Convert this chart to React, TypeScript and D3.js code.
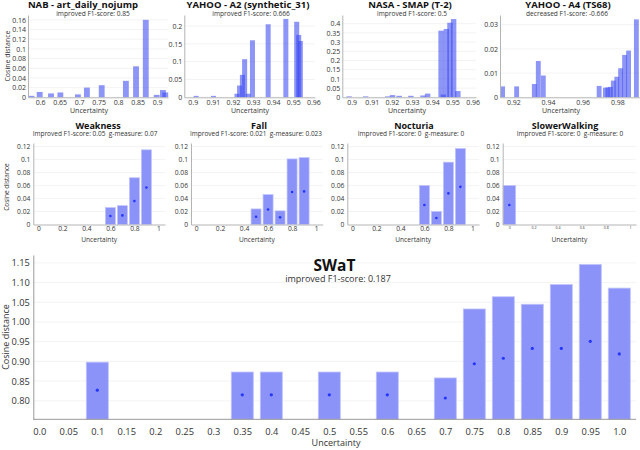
import React, { useEffect, useRef } from "react";
import * as d3 from "d3";

// ---- top row: histogram bin centres and cosine distance ----
const nabBins = [0.578, 0.599, 0.628, 0.652, 0.697, 0.72, 0.758, 0.82, 0.846, 0.871, 0.899, 0.915, 0.921];
const nabValues = [0.003, 0.011, 0.008, 0.01, 0.006, 0.02, 0.025, 0.034, 0.064, 0.16, 0.005, 0.015, 0.01];
const nabXTicks = [0.6, 0.65, 0.7, 0.75, 0.8, 0.85, 0.9];
const nabYTicks = [0, 0.02, 0.04, 0.06, 0.08, 0.1, 0.12, 0.14, 0.16];

const a2Bins = [0.9017, 0.9103, 0.922, 0.9233, 0.9247, 0.9258, 0.9275, 0.9297, 0.9375, 0.9463, 0.9517, 0.9527, 0.9535];
const a2Values = [0.004, 0.004, 0.01, 0.033, 0.063, 0.107, 0.01, 0.16, 0.205, 0.22, 0.212, 0.175, 0.158];
const a2XTicks = [0.9, 0.91, 0.92, 0.93, 0.94, 0.95, 0.96];
const a2YTicks = [0, 0.05, 0.1, 0.15, 0.2];

const smapBins = [0.8988, 0.907, 0.9179, 0.9203, 0.9236, 0.9294, 0.9354, 0.9377, 0.9444, 0.9455, 0.947, 0.9488, 0.9506, 0.9527];
const smapValues = [0.005, 0.005, 0.005, 0.012, 0.008, 0.008, 0.01, 0.02, 0.362, 0.015, 0.371, 0.405, 0.425, 0.034];
const smapXTicks = [0.9, 0.91, 0.92, 0.93, 0.94, 0.95, 0.96];
const smapYTicks = [0, 0.05, 0.1, 0.15, 0.2, 0.25, 0.3, 0.35, 0.4];

const a4Bins = [0.9138, 0.9219, 0.9321, 0.9344, 0.9373, 0.9695, 0.9731, 0.9746, 0.976, 0.9777, 0.9797, 0.9819, 0.9842, 0.9865, 0.991];
const a4Values = [0.0045, 0.0045, 0.0055, 0.015, 0.009, 0.0047, 0.004, 0.0041, 0.0043, 0.0069, 0.0085, 0.012, 0.0175, 0.0193, 0.0322];
const a4XTicks = [0.92, 0.94, 0.96, 0.98];
const a4YTicks = [0, 0.01, 0.02, 0.03];

// ---- middle row: uncertainty bucket, bar height, dot value ----
const weaknessX = [0.6, 0.7, 0.8, 0.9];
const weaknessBar = [0.026, 0.029, 0.072, 0.115];
const weaknessDot = [0.013, 0.014, 0.036, 0.057];

const fallX = [0.5, 0.6, 0.7, 0.8, 0.9];
const fallBar = [0.024, 0.046, 0.021, 0.101, 0.103];
const fallDot = [0.012, 0.023, 0.011, 0.05, 0.051];

const nocturiaX = [0.6, 0.7, 0.8, 0.9];
const nocturiaBar = [0.06, 0.02, 0.096, 0.117];
const nocturiaDot = [0.03, 0.01, 0.048, 0.058];

const walkingX = [0];
const walkingBar = [0.06];
const walkingDot = [0.03];

const midXTicks = [0, 0.2, 0.4, 0.6, 0.8, 1];
const midYTicks = [0, 0.02, 0.04, 0.06, 0.08, 0.1, 0.12];

// ---- bottom: SWaT ----
const swatCategories = ["0.0", "0.05", "0.1", "0.15", "0.2", "0.25", "0.3", "0.35", "0.4", "0.45", "0.5",
    "0.55", "0.6", "0.65", "0.7", "0.75", "0.8", "0.85", "0.9", "0.95", "1.0"];
const swatBarCats = ["0.1", "0.35", "0.4", "0.5", "0.6", "0.7", "0.75", "0.8", "0.85", "0.9", "0.95", "1.0"];
const swatBar = [0.898, 0.873, 0.873, 0.873, 0.873, 0.858, 1.033, 1.064, 1.045, 1.095, 1.146, 1.086];
const swatDot = [0.827, 0.815, 0.815, 0.815, 0.815, 0.807, 0.894, 0.908, 0.933, 0.933, 0.951, 0.919];
const swatYTicks = [0.8, 0.85, 0.9, 0.95, 1.0, 1.05, 1.1, 1.15];

const FONT = "'Open Sans', 'Noto Sans', sans-serif";
const HIST = "#3a48f2";
const BAR = "#8b93f8";
const BAR_EDGE = "#c0c4fc";
const DOT = "#2536ff";
const AXIS = "#b4b4b4";
const GRID = "#f0f0f0";
const W = 640;
const H = 450;

const fmt = d3.format("~g");

const topPanels = [
    {title: "NAB - art_daily_nojump", subtitle: "improved F1-score: 0.85", bins: nabBins, values: nabValues,
        binWidth: 0.015, xDomain: [0.569, 0.928], yMax: 0.17, xTicks: nabXTicks, yTicks: nabYTicks,
        left: 28, right: 168, titleX: 83, subX: 93, labelX: 89},
    {title: "YAHOO - A2 (synthetic_31)", subtitle: "improved F1-score: 0.666", bins: a2Bins, values: a2Values,
        binWidth: 0.0025, xDomain: [0.8958, 0.9608], yMax: 0.231, xTicks: a2XTicks, yTicks: a2YTicks,
        left: 184.3, right: 315, titleX: 248, subX: 251, labelX: 250},
    {title: "NASA - SMAP (T-2)", subtitle: "improved F1-score: 0.5", bins: smapBins, values: smapValues,
        binWidth: 0.0027, xDomain: [0.8954, 0.9617], yMax: 0.447, xTicks: smapXTicks, yTicks: smapYTicks,
        left: 342.3, right: 476, titleX: 410, subX: 412, labelX: 407},
    {title: "YAHOO - A4 (TS68)", subtitle: "decreased F1-score: -0.666", bins: a4Bins, values: a4Values,
        binWidth: 0.0028, xDomain: [0.9123, 0.9928], yMax: 0.034, xTicks: a4XTicks, yTicks: a4YTicks,
        left: 500, right: 639.5, titleX: 568, subX: 567, labelX: 561},
];

const midPanels = [
    {title: "Weakness", subtitle: "Improved F1-score: 0.05  g-measure: 0.07", xs: weaknessX, bars: weaknessBar,
        dots: weaknessDot, left: 33.3, right: 165, xDomain: [-0.042, 1.055], barWidth: 0.1, gap: 1,
        tickSize: 6.7, titleX: 98, subX: 95},
    {title: "Fall", subtitle: "Improved F1-score: 0.021  g-measure: 0.023", xs: fallX, bars: fallBar,
        dots: fallDot, left: 191, right: 322.7, xDomain: [-0.042, 1.055], barWidth: 0.1, gap: 1,
        tickSize: 6.7, titleX: 259, subX: 256},
    {title: "Nocturia", subtitle: "Improved F1-score: 0  g-measure: 0", xs: nocturiaX, bars: nocturiaBar,
        dots: nocturiaDot, left: 347.3, right: 479, xDomain: [-0.042, 1.055], barWidth: 0.1, gap: 1,
        tickSize: 6.7, titleX: 414, subX: 411},
    {title: "SlowerWalking", subtitle: "Improved F1-score: 0  g-measure: 0", xs: walkingX, bars: walkingBar,
        dots: walkingDot, left: 502.7, right: 636, xDomain: [-0.055, 1.05], barWidth: 0.11, gap: 0.3,
        tickSize: 3.6, titleX: 565, subX: 570},
];

const App: React.FC = () => {
    const svgRef = useRef<SVGSVGElement>(null);

    useEffect(() => {
        const svg = d3.select(svgRef.current);
        svg.selectAll("*").remove();
        svg.append("rect").attr("width", W).attr("height", H).attr("fill", "#fff");

        const label = (x: number, y: number, s: string, size: number, bold = false, rotate = false) => {
            const t = svg.append("text")
                .attr("text-anchor", "middle")
                .attr("font-family", FONT)
                .attr("font-size", size)
                .attr("font-weight", bold ? 700 : 400)
                .attr("fill", bold ? "#111" : "#333")
                .style("white-space", "pre")
                .text(s);
            if (rotate) {
                t.attr("transform", `translate(${x},${y}) rotate(-90)`).attr("dominant-baseline", "central");
            } else {
                t.attr("x", x).attr("y", y);
            }
            return t;
        };

        const styleAxis = (g: any, size: number, color: string) => {
            g.attr("font-family", FONT).attr("font-size", size);
            g.select(".domain").attr("stroke", color);
            g.selectAll("text").attr("fill", "#333");
        };

        // ---------- top row ----------
        const topBase = 97.3;
        const topTop = 15;
        topPanels.forEach((p) => {
            const x = d3.scaleLinear().domain(p.xDomain).range([p.left, p.right]);
            const y = d3.scaleLinear().domain([0, p.yMax]).range([topBase, topTop]);
            const g = svg.append("g");

            g.selectAll("line.grid").data(p.yTicks.filter(v => v > 0)).join("line")
                .attr("x1", p.left).attr("x2", p.right)
                .attr("y1", d => y(d)).attr("y2", d => y(d))
                .attr("stroke", GRID).attr("stroke-width", 0.8);

            g.selectAll("rect.bin").data(p.bins.map((b, i) => ({b, v: p.values[i]}))).join("rect")
                .attr("x", d => x(d.b - p.binWidth / 2))
                .attr("width", d => x(d.b + p.binWidth / 2) - x(d.b - p.binWidth / 2))
                .attr("y", d => y(d.v))
                .attr("height", d => y(0) - y(d.v))
                .attr("fill", HIST)
                .attr("fill-opacity", 0.58);

            const xa = g.append("g").attr("transform", `translate(0,${topBase})`)
                .call(d3.axisBottom(x).tickValues(p.xTicks).tickSize(0).tickPadding(2.6).tickFormat(fmt as any));
            styleAxis(xa, 7, AXIS);
            const ya = g.append("g").attr("transform", `translate(${p.left},0)`)
                .call(d3.axisLeft(y).tickValues(p.yTicks).tickSize(0).tickPadding(2).tickFormat(fmt as any));
            styleAxis(ya, 7, AXIS);

            label(p.titleX, 8.2, p.title, 9.5, true);
            label(p.subX, 15.6, p.subtitle, 6.6);
            label(p.labelX, 112.5, "Uncertainty", 7);
        });
        label(7, 56, "Cosine distance", 7, false, true);

        // ---------- middle row ----------
        const midBase = 224.5;
        const midTop = 143;
        midPanels.forEach((p) => {
            const x = d3.scaleLinear().domain(p.xDomain).range([p.left, p.right]);
            const y = d3.scaleLinear().domain([0, 0.1255]).range([midBase, midTop]);
            const g = svg.append("g");

            g.selectAll("line.grid").data(midYTicks.filter(v => v > 0)).join("line")
                .attr("x1", p.left).attr("x2", p.right)
                .attr("y1", d => y(d)).attr("y2", d => y(d))
                .attr("stroke", GRID).attr("stroke-width", 0.8);

            const rows = p.xs.map((c, i) => ({c, v: p.bars[i], d: p.dots[i]}));
            g.selectAll("rect.bar").data(rows).join("rect")
                .attr("x", d => x(d.c - p.barWidth / 2) + p.gap)
                .attr("width", d => x(d.c + p.barWidth / 2) - x(d.c - p.barWidth / 2) - 2 * p.gap)
                .attr("y", d => y(d.v))
                .attr("height", d => y(0) - y(d.v))
                .attr("fill", BAR)
                .attr("stroke", BAR_EDGE)
                .attr("stroke-width", 0.7);
            g.selectAll("circle.dot").data(rows).join("circle")
                .attr("cx", d => x(d.c))
                .attr("cy", d => y(d.d))
                .attr("r", 1.3)
                .attr("fill", DOT);

            const xa = g.append("g").attr("transform", `translate(0,${midBase})`)
                .call(d3.axisBottom(x).tickValues(midXTicks).tickSize(0).tickPadding(1.5).tickFormat(fmt as any));
            styleAxis(xa, p.tickSize, AXIS);
            const ya = g.append("g").attr("transform", `translate(${p.left},0)`)
                .call(d3.axisLeft(y).tickValues(midYTicks).tickSize(0).tickPadding(3).tickFormat(fmt as any));
            styleAxis(ya, 6.7, AXIS);

            label(p.titleX, 129.4, p.title, 9, true);
            label(p.subX, 136.2, p.subtitle, 6.5);
            label((p.left + p.right) / 2, 242, "Uncertainty", 6.6);
        });
        label(6, 187, "Cosine distance", 6.5, false, true);

        // ---------- SWaT ----------
        const left = 33.3;
        const right = 636;
        const base = 419.3;
        const x = d3.scalePoint<string>().domain(swatCategories).range([39.3, 619.3]);
        const y = d3.scaleLinear().domain([0.753, 1.17]).range([base, 255]);
        const g = svg.append("g");

        g.selectAll("line.grid").data(swatYTicks).join("line")
            .attr("x1", left).attr("x2", right)
            .attr("y1", d => y(d)).attr("y2", d => y(d))
            .attr("stroke", GRID).attr("stroke-width", 0.8);

        const bw = x.step() * 0.76;
        const rows = swatBarCats.map((c, i) => ({c, v: swatBar[i], d: swatDot[i]}));
        g.selectAll("rect.bar").data(rows).join("rect")
            .attr("x", d => (x(d.c) as number) - bw / 2)
            .attr("width", bw)
            .attr("y", d => y(d.v))
            .attr("height", d => base - y(d.v))
            .attr("fill", BAR)
            .attr("stroke", BAR_EDGE)
            .attr("stroke-width", 0.8);
        g.selectAll("circle.dot").data(rows).join("circle")
            .attr("cx", d => x(d.c) as number)
            .attr("cy", d => y(d.d))
            .attr("r", 1.6)
            .attr("fill", DOT);

        const xa = g.append("g").attr("transform", `translate(0,${base})`)
            .call(d3.axisBottom(x).tickSize(0).tickPadding(9));
        styleAxis(xa, 9.3, AXIS);
        xa.select(".domain").remove();
        g.append("line").attr("x1", left).attr("x2", right).attr("y1", base).attr("y2", base)
            .attr("stroke", "#999").attr("stroke-width", 1);
        const ya = g.append("g").attr("transform", `translate(${left},0)`)
            .call(d3.axisLeft(y).tickValues(swatYTicks).tickSize(0).tickPadding(3.5).tickFormat(d3.format(".2f") as any));
        styleAxis(ya, 9.3, "#999");

        label(334.5, 270.7, "SWaT", 15.5, true);
        label(338, 282, "improved F1-score: 0.187", 9);
        label(336, 446, "Uncertainty", 9);
        label(5.5, 337, "Cosine distance", 9, false, true);
    }, []);

    return <svg ref={svgRef} width={W} height={H} style={{position: "absolute", left: 0, top: 0}}></svg>;
};

export default App;
